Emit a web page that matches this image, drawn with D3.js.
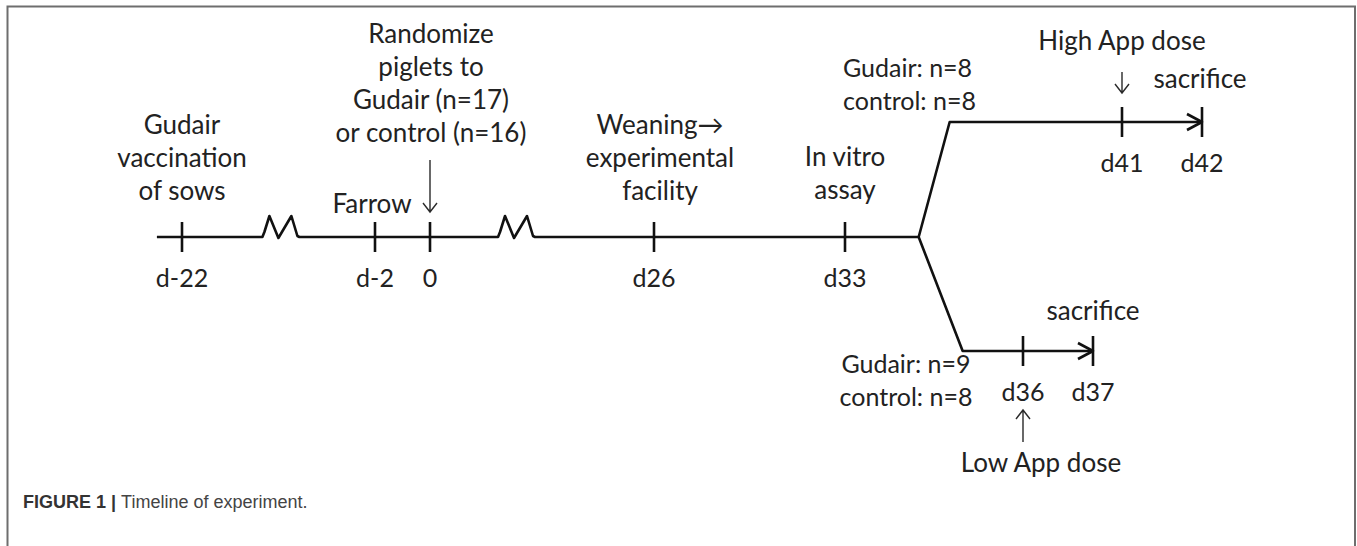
<!DOCTYPE html>
<html>
<head>
<meta charset="utf-8">
<script src="https://cdn.jsdelivr.net/npm/d3@7"></script>
<style>
  body { margin: 0; background: #fff; }
  text { font-family: Lato, "Open Sans", sans-serif; fill: #222; }
</style>
</head>
<body>
<div id="graph"></div>
<script>
// timeline data (days)
var mainDays = [-22, -2, 0, 26, 33];
var mainTickLabels = ["d-22", "d-2", "0", "d26", "d33"];
var breakDays = [-11.7, 10.1];           // where the squiggle breaks sit
var startDay = -24.6, forkDay = 35.7;
var highDays = [41, 42];
var highTickLabels = ["d41", "d42"];
var lowDays = [36, 37];
var lowTickLabels = ["d36", "d37"];

var mainEvents = [
    {day: -22, lines: ["Gudair", "vaccination", "of sows"]},
    {day: 0, lines: ["Randomize", "piglets to", "Gudair (n=17)", "or control (n=16)"]},
    {day: -2, lines: ["Farrow"]},
    {day: 26, lines: ["Weaning\u2192", "experimental", "facility"]},
    {day: 33, lines: ["In vitro", "assay"]}
];
var highGroups = ["Gudair: n=8", "control: n=8"];
var lowGroups = ["Gudair: n=9", "control: n=8"];
var caption = ["FIGURE 1 | ", "Timeline of experiment."];

var svgWidth = 1357, svgHeight = 546;
var lineColor = "#111";
var lineW = 2.6;
var tickH = 15;
var fontSize = 26;
var numFontSize = 25;   // digits in Lato run wide, shrink them a bit
var lineGap = 33;

var $svg = d3.select("#graph").append("svg")
    .attr("width", svgWidth).attr("height", svgHeight);

// frame open at the bottom
$svg.append("path")
    .attr("d", "M7.5,546 V6.5 H1355 V546")
    .attr("fill", "none").attr("stroke", "#6e6e6e").attr("stroke-width", 2);

// scales (piecewise, timeline is not to scale)
var x = d3.scaleLinear().domain(mainDays).range([182, 375, 430, 654, 845]);
var xHigh = d3.scaleLinear().domain(highDays).range([1122, 1202]);
var xLow = d3.scaleLinear().domain(lowDays).range([1023, 1093]);
var yMain = 237, yHigh = 122, yLow = 351;
var xStart = x(startDay), xFork = x(forkDay);

var g = $svg.append("g");
var line = d3.line();

function stroke(sel) {
    return sel.attr("fill", "none").attr("stroke", lineColor).attr("stroke-width", lineW)
        .attr("stroke-linejoin", "round");
}

// main line with squiggle breaks
var mainPath = [[xStart, yMain]];
breakDays.forEach(d => {
    var c = x(d);
    mainPath.push([c - 19, yMain], [c - 17, yMain - 5], [c - 12, yMain - 21],
        [c - 3, yMain + 1], [c + 10, yMain - 21], [c + 16, yMain - 1], [c + 18, yMain]);
});
mainPath.push([xFork, yMain]);
stroke(g.append("path").attr("d", line(mainPath)));

// branches
stroke(g.append("path")
    .attr("d", line([[xHigh(highDays[1]), yHigh], [xFork + 31, yHigh], [xFork, yMain],
                     [xFork + 44, yLow], [xLow(lowDays[1]), yLow]])));

// arrow heads at the branch ends
function chevron(px, py) {
    stroke(g.append("path").attr("d", line([[px - 15, py - 8], [px, py], [px - 15, py + 8]])));
}
chevron(xHigh(42), yHigh);
chevron(xLow(37), yLow);

// ticks
function ticks(days, scale, yy, labels) {
    g.selectAll(null).data(days).enter().append("line")
        .attr("x1", d => scale(d)).attr("x2", d => scale(d))
        .attr("y1", yy - tickH).attr("y2", yy + tickH)
        .attr("stroke", lineColor).attr("stroke-width", lineW);
    g.selectAll(null).data(days).enter().append("text")
        .attr("x", d => scale(d)).attr("y", yy + 50)
        .attr("text-anchor", "middle").attr("font-size", numFontSize)
        .text((d, i) => labels[i]);
}
ticks(mainDays, x, yMain, mainTickLabels);
ticks(highDays, xHigh, yHigh, highTickLabels);
ticks(lowDays, xLow, yLow, lowTickLabels);

// multi-line labels, bottom line at given baseline
function label(cx, baseline, lines, anchor, size) {
    var t = g.append("text").attr("font-size", size || fontSize).attr("text-anchor", anchor || "middle");
    lines.forEach((s, i) => {
        t.append("tspan").attr("x", cx)
            .attr("y", baseline - (lines.length - 1 - i) * lineGap).text(s);
    });
}
var baselines = {"-22": 200, "0": 142, "-2": 213, "26": 200, "33": 199};
var shifts = {"-22": 0, "0": 1, "-2": -3, "26": 6, "33": 0};
mainEvents.forEach(e => label(x(e.day) + shifts[e.day], baselines[e.day], e.lines));

// thin pointer arrows
function pointer(px, y1, y2) {
    var dir = y2 > y1 ? 1 : -1;
    g.append("path")
        .attr("d", line([[px, y1], [px, y2]]) + line([[px - 7, y2 - dir * 9], [px, y2], [px + 7, y2 - dir * 9]]))
        .attr("fill", "none").attr("stroke", "#2a2a2a").attr("stroke-width", 1.4);
}
pointer(x(0), 160, 212);

// upper branch texts
label(843, 110, highGroups, "start", numFontSize);
label(xHigh(41), 50, ["High App dose"]);
pointer(xHigh(41), 72, 93);
label(xHigh(42) - 2, 88, ["sacrifice"]);

// lower branch texts
label(906, 406, lowGroups, "middle", numFontSize);
label(xLow(37), 320, ["sacrifice"]);
pointer(xLow(36), 442, 410);
label(xLow(36) + 18, 472, ["Low App dose"]);

// caption
var cap = $svg.append("text").attr("x", 23).attr("y", 508)
    .style("font-family", "'Liberation Sans', Arial, sans-serif").attr("font-size", 18);
cap.append("tspan").attr("font-weight", "bold").style("fill", "#333").text(caption[0]);
cap.append("tspan").style("fill", "#444").text(caption[1]);
</script>
</body>
</html>
